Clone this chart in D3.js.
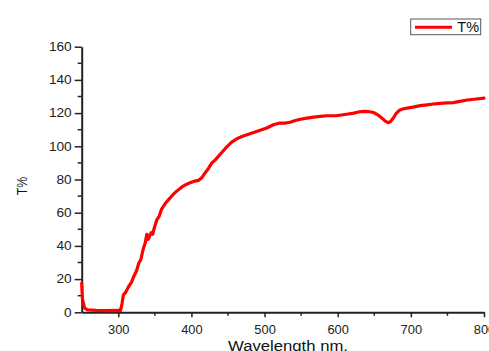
<!DOCTYPE html>
<html><head><meta charset="utf-8">
<script src="https://cdn.jsdelivr.net/npm/d3@7"></script>
<style>html,body{margin:0;padding:0;background:#fff;}svg{display:block;font-family:"Liberation Sans",Arial,sans-serif;}</style>
</head><body>
<svg id="c" width="489" height="351"></svg>
<script>
const wavelength = [250,251,254,258,270,285,300,303,305,307,310,314,318,321,325,328,331,334,337,339,341,343,345,347,350,353,356,359,362,365,370,375,380,387,393,398,404,410,414,418,423,428,433,440,447,455,462,470,480,490,503,512,521,528,535,542,549,558,567,576,585,598,612,622,630,637,644,650,656,661,665,669,672,676,680,685,690,695,703,713,722,731,740,750,758,767,777,790,800];
const transmittance = [17.6,8,2.5,1.5,1.2,1.0,1.2,1.0,5,10.4,12,15.4,18,21.4,25,29.5,32,38,42,47,44,46,48,47,52,56,58,62,64,66,68.5,71,73,75.5,77,78,79,79.5,81,83.5,86.5,90,92,95.5,99,102.5,104.5,106,107.5,109,111,113,114,114,114.5,115.5,116.3,117,117.6,118,118.4,118.4,119.3,120,120.8,121,120.8,120.2,118.6,116.8,115.2,114.2,114.8,117,119.8,121.9,122.6,123,123.6,124.5,125,125.5,125.9,126.2,126.3,127.1,127.9,128.5,129];
const xTicks = [300,400,500,600,700,800];
const xMinor = [250,350,450,550,650,750];
const yTicks = [0,20,40,60,80,100,120,140,160];
const yMinor = [10,30,50,70,90,110,130,150];
const seriesName = "T%";
const xTitle = "Wavelength nm.";
const yTitle = "T%";

const svg = d3.select("#c");
const x = d3.scaleLinear().domain([250,800]).range([81.7,484]);
const y = d3.scaleLinear().domain([0,160]).range([312.3,46.7]);
const axisColor = "#222";

const gx = svg.append("g").attr("transform","translate(0,"+y(0)+")");
gx.selectAll("line.minor").data(xMinor.filter(d=>d>250)).join("line")
  .attr("x1",d=>x(d)).attr("x2",d=>x(d)).attr("y1",0).attr("y2",3.5)
  .attr("stroke",axisColor).attr("stroke-width",1.5);
const xAxis = d3.axisBottom(x).tickValues(xTicks).tickSize(5).tickPadding(8).tickSizeOuter(0);
gx.append("g").call(xAxis).call(g=>{
  g.select(".domain").attr("stroke",axisColor).attr("stroke-width",2);
  g.selectAll(".tick line").attr("stroke",axisColor).attr("stroke-width",1.5);
  g.selectAll(".tick text").attr("fill","#222").attr("font-size","12px").attr("font-family","Liberation Sans, Arial, sans-serif")
   .attr("textLength",21.5).attr("lengthAdjust","spacingAndGlyphs");
});

const gy = svg.append("g").attr("transform","translate("+x(250)+",0)");
gy.selectAll("line.minor").data(yMinor).join("line")
  .attr("x1",-4).attr("x2",0).attr("y1",d=>y(d)).attr("y2",d=>y(d))
  .attr("stroke",axisColor).attr("stroke-width",1.5);
const yAxis = d3.axisLeft(y).tickValues(yTicks).tickSize(7).tickPadding(3).tickSizeOuter(0);
gy.append("g").call(yAxis).call(g=>{
  g.select(".domain").attr("stroke",axisColor).attr("stroke-width",2);
  g.selectAll(".tick line").attr("stroke",axisColor).attr("stroke-width",1.5);
  g.selectAll(".tick text").attr("fill","#222").attr("font-size","12px").attr("font-family","Liberation Sans, Arial, sans-serif")
   .each(function(d){ const s=String(d); d3.select(this).attr("textLength", s.length*7.6).attr("lengthAdjust","spacingAndGlyphs"); });
});

const data = wavelength.map((w,i)=>({w, t: transmittance[i]}));
const line = d3.line().x(d=>x(d.w)).y(d=>y(d.t));
svg.append("path").datum(data).attr("d",line).attr("fill","none")
  .attr("stroke","#ff0000").attr("stroke-width",3.2).attr("stroke-linejoin","round").attr("stroke-linecap","round");

svg.append("text").attr("x",288).attr("y",351).attr("text-anchor","middle")
  .attr("font-size","14px").attr("fill","#111").attr("textLength",120).attr("lengthAdjust","spacingAndGlyphs").text(xTitle);
svg.append("text").attr("transform","translate(26.5,186) rotate(-90)").attr("text-anchor","middle")
  .attr("font-size","15px").attr("fill","#111").attr("textLength",18.5).attr("lengthAdjust","spacingAndGlyphs").text(yTitle);

const lg = svg.append("g");
lg.append("rect").attr("x",410.7).attr("y",19).attr("width",70).attr("height",15.7)
  .attr("fill","#fff").attr("stroke","#555").attr("stroke-width",1);
lg.append("line").attr("x1",415).attr("x2",452).attr("y1",27.3).attr("y2",27.3)
  .attr("stroke","#ff0000").attr("stroke-width",3);
lg.append("text").attr("x",457.3).attr("y",32.3).attr("font-size","14px").attr("fill","#111")
  .attr("textLength",21.7).attr("lengthAdjust","spacingAndGlyphs").text(seriesName);
</script>
</body></html>
